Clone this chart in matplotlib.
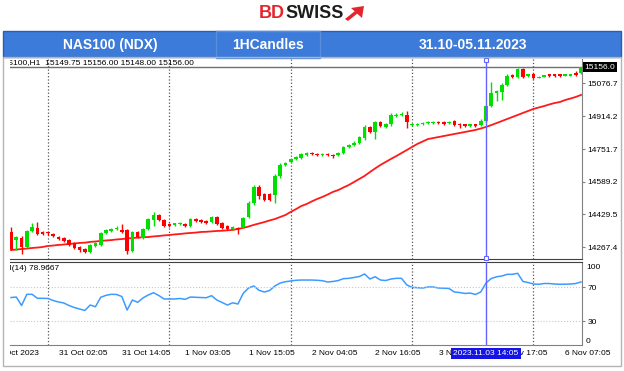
import matplotlib.pyplot as plt
from matplotlib.patches import Rectangle, Polygon

plt.rcParams['font.family'] = ['Liberation Sans', 'DejaVu Sans']

# NAS100 H1 candles, 30 Oct - 6 Nov 2023
opens = [14342, 14302, 14312, 14268, 14347, 14362, 14342, 14342, 14332, 14317,
         14312, 14302, 14288, 14268, 14258, 14243, 14273, 14278, 14337, 14347,
         14357, 14352, 14352, 14248, 14342, 14312, 14357, 14401, 14426, 14401,
         14381, 14377, 14381, 14381, 14372, 14406, 14401, 14396, 14391, 14416,
         14386, 14372, 14357, 14362, 14367, 14416, 14485, 14564, 14530, 14530,
         14525, 14618, 14673, 14688, 14702, 14707, 14722, 14732, 14727, 14722,
         14727, 14722, 14722, 14732, 14762, 14772, 14782, 14806, 14861, 14836,
         14885, 14861, 14875, 14915, 14920, 14920, 14870, 14870, 14875, 14880,
         14880, 14885, 14885, 14880, 14890, 14875, 14870, 14866, 14870, 14870,
         14890, 14964, 15029, 15033, 15068, 15113, 15108, 15147, 15113, 15122,
         15103, 15108, 15118, 15118, 15118, 15113, 15113, 15122, 15125]
highs = [14367, 14322, 14322, 14352, 14386, 14391, 14347, 14347, 14337, 14322,
         14317, 14307, 14293, 14273, 14263, 14283, 14293, 14342, 14357, 14362,
         14372, 14381, 14357, 14347, 14347, 14362, 14411, 14441, 14431, 14406,
         14386, 14386, 14391, 14386, 14411, 14411, 14406, 14401, 14421, 14421,
         14391, 14377, 14372, 14367, 14416, 14495, 14574, 14574, 14534, 14534,
         14628, 14683, 14688, 14707, 14717, 14732, 14737, 14737, 14732, 14732,
         14732, 14727, 14737, 14767, 14777, 14791, 14816, 14870, 14866, 14890,
         14890, 14880, 14930, 14930, 14935, 14940, 14880, 14880, 14885, 14890,
         14890, 14890, 14890, 14890, 14895, 14880, 14875, 14875, 14875, 14900,
         14969, 15083, 15043, 15078, 15122, 15122, 15152, 15152, 15122, 15127,
         15113, 15118, 15122, 15122, 15122, 15122, 15122, 15137, 15158]
lows = [14253, 14253, 14233, 14263, 14342, 14327, 14327, 14327, 14317, 14302,
        14293, 14273, 14258, 14243, 14238, 14238, 14268, 14273, 14332, 14342,
        14352, 14337, 14233, 14243, 14312, 14307, 14352, 14372, 14396, 14367,
        14367, 14372, 14377, 14367, 14367, 14391, 14386, 14381, 14386, 14377,
        14357, 14352, 14352, 14332, 14362, 14411, 14475, 14505, 14495, 14495,
        14485, 14608, 14668, 14683, 14698, 14702, 14717, 14722, 14717, 14717,
        14717, 14707, 14717, 14727, 14757, 14767, 14777, 14796, 14831, 14801,
        14861, 14856, 14866, 14910, 14915, 14856, 14866, 14866, 14870, 14875,
        14875, 14875, 14870, 14875, 14866, 14856, 14861, 14861, 14861, 14866,
        14885, 14959, 14989, 14994, 15063, 15103, 15103, 15103, 15108, 15098,
        15101, 15106, 15108, 15108, 15108, 15111, 15111, 15113, 15120]
closes = [14258, 14317, 14268, 14347, 14367, 14332, 14332, 14337, 14322, 14307,
          14297, 14278, 14263, 14253, 14243, 14278, 14288, 14337, 14352, 14357,
          14362, 14342, 14248, 14342, 14317, 14357, 14406, 14426, 14401, 14372,
          14372, 14381, 14386, 14372, 14406, 14396, 14391, 14386, 14416, 14381,
          14362, 14357, 14367, 14357, 14411, 14485, 14564, 14519, 14500, 14500,
          14618, 14673, 14683, 14702, 14712, 14727, 14732, 14727, 14722, 14727,
          14722, 14717, 14732, 14762, 14772, 14782, 14811, 14861, 14836, 14885,
          14866, 14875, 14920, 14920, 14925, 14885, 14875, 14875, 14880, 14885,
          14885, 14880, 14875, 14885, 14870, 14870, 14866, 14870, 14866, 14890,
          14964, 15029, 15038, 15068, 15113, 15108, 15147, 15108, 15118, 15103,
          15108, 15113, 15113, 15113, 15113, 15118, 15118, 15118, 15156]
ma = [14253, 14255, 14258, 14260, 14263, 14265, 14268, 14273, 14275, 14278,
      14280, 14283, 14285, 14288, 14289, 14293, 14295, 14298, 14300, 14302,
      14305, 14307, 14310, 14312, 14314, 14316, 14317, 14320, 14322, 14325,
      14327, 14330, 14332, 14335, 14337, 14339, 14342, 14343, 14345, 14347,
      14348, 14350, 14352, 14357, 14362, 14369, 14377, 14384, 14391, 14399,
      14406, 14416, 14426, 14441, 14455, 14470, 14480, 14493, 14505, 14515,
      14527, 14540, 14549, 14562, 14574, 14589, 14604, 14619, 14638, 14656,
      14673, 14688, 14703, 14717, 14732, 14747, 14762, 14777, 14789, 14801,
      14806, 14811, 14816, 14821, 14826, 14831, 14836, 14841, 14846, 14853,
      14861, 14870, 14880, 14890, 14900, 14910, 14920, 14930, 14940, 14950,
      14957, 14964, 14972, 14979, 14984, 14994, 15001, 15009, 15019]
rsi = [57.6, 58.2, 48.2, 61.4, 61.4, 56.7, 56.7, 56.5, 54.1, 52.4,
       51.2, 48.2, 45.9, 44.1, 42.4, 48.8, 46.8, 57.9, 60.2, 61.4,
       61.2, 58.8, 42.9, 54.7, 52.0, 57.1, 60.6, 63.3, 60.0, 55.9,
       55.9, 55.9, 56.5, 55.5, 58.2, 57.9, 57.6, 57.4, 59.8, 54.7,
       51.8, 48.8, 51.4, 50.0, 62.6, 68.8, 71.2, 66.1, 64.1, 65.9,
       71.2, 74.7, 76.2, 77.1, 77.9, 78.2, 78.2, 78.2, 77.9, 77.4,
       75.9, 76.5, 77.6, 79.8, 80.2, 81.2, 82.3, 85.3, 79.4, 82.1,
       78.2, 77.6, 79.4, 80.2, 80.2, 72.4, 69.6, 69.2, 68.8, 70.0,
       70.0, 68.8, 68.6, 68.2, 64.1, 63.5, 62.4, 62.9, 61.2, 64.1,
       74.7, 80.0, 82.0, 82.9, 84.9, 84.9, 86.1, 76.5, 75.2, 73.5,
       73.2, 74.1, 74.1, 73.5, 73.2, 73.3, 73.5, 74.1, 75.9]

price_ticks = [14267.4, 14429.5, 14589.2, 14751.7, 14914.2, 15076.7]
grid_bars = [7, 30, 53, 76, 99]
time_pos = [-3.4, 9, 21, 33, 45, 57, 69, 81, 93, 105]
time_labels = ['30 Oct 2023', '31 Oct 02:05', '31 Oct 14:05', '1 Nov 03:05', '1 Nov 15:05',
               '2 Nov 04:05', '2 Nov 16:05', '3 Nov 05:05', '3 Nov 17:05', '6 Nov 07:05']
cursor_bar = 90
cursor_label = '2023.11.03 14:05'

W, H = 624, 371
def box(x0, y0, x1, y1):
    # pixel box -> figure fraction rect
    return [x0 / W, 1 - y1 / H, (x1 - x0) / W, (y1 - y0) / H]

fig = plt.figure(figsize=(6.24, 3.71), dpi=100)
ax_p = fig.add_axes(box(10, 59, 582, 259))
ax_r = fig.add_axes(box(10, 262, 582, 345))
ax_t = fig.add_axes(box(10, 345, 624, 362))

x = list(range(len(closes)))
green, red = '#00e000', '#ff0000'

# candles
for i in x:
    c = green if closes[i] >= opens[i] else red
    ax_p.vlines(i, lows[i], highs[i], color=c, lw=1.0, zorder=3)
    ax_p.bar(i, max(abs(closes[i] - opens[i]), 7), bottom=min(opens[i], closes[i]),
             width=0.68, color=c, zorder=4)
ax_p.plot(x, ma, color='#ff1a1a', lw=1.3, zorder=2)
ax_p.axhline(closes[-1], color='#707070', lw=1, zorder=1)

ax_p.set_xlim(-0.19, 108.19)
ax_p.set_ylim(14208.5, 15196.5)
ax_p.yaxis.tick_right()
ax_p.set_yticks(price_ticks)
ax_p.set_yticklabels(['%.1f' % v for v in price_ticks])
ax_p.set_xticks([])
ax_p.tick_params(axis='y', labelsize=6, length=2, pad=2, colors='#808080', labelcolor='black')
ax_p.text(1.004, closes[-1], '%.1f' % closes[-1], transform=ax_p.get_yaxis_transform(),
          fontsize=6, color='white', va='center', ha='left',
          bbox=dict(facecolor='black', edgecolor='none', pad=1.2))
ax_p.text(-2.84, 15177, 'NAS100,H1  %.2f %.2f %.2f %.2f' % (15149.75, 15156.00, 15148.00, 15156.00),
          fontsize=6, va='center', ha='left', clip_on=True)

# RSI
ax_r.plot(x, rsi, color='#3d9bff', lw=1.1)
for lvl in (70, 30):
    ax_r.axhline(lvl, color='#c8c8c8', ls=':', lw=0.8)
ax_r.set_xlim(-0.19, 108.19)
ax_r.set_ylim(1.8, 99.4)
ax_r.yaxis.tick_right()
ax_r.set_yticks([70, 30])
ax_r.set_xticks([])
ax_r.tick_params(axis='y', labelsize=6, length=2, pad=2, colors='#808080', labelcolor='black')
ax_r.text(1.007, 93.5, '100', transform=ax_r.get_yaxis_transform(), fontsize=6, va='center')
ax_r.text(1.007, 6.5, '0', transform=ax_r.get_yaxis_transform(), fontsize=6, va='center')
ax_r.text(-2.37, 92.3, 'RSI(14) 78.9667', fontsize=6, va='center', ha='left', clip_on=True)

for ax in (ax_p, ax_r):
    for g in grid_bars:
        ax.axvline(g, color='#555555', ls=':', lw=0.9, zorder=1)
    ax.axvline(cursor_bar, color='#6464ff', lw=1, zorder=5)
    ax.spines['left'].set_visible(False)
    ax.spines['right'].set_color('#808080')
    ax.spines['top'].set_visible(False)
    ax.spines['bottom'].set_color('#808080')
ax_p.spines['bottom'].set_color('#404040')
ax_r.spines['top'].set_visible(True)
ax_r.spines['top'].set_color('#404040')
ax_p.plot([cursor_bar, cursor_bar], [15192, 14211], ls='none', marker='s', ms=2.5,
          mfc='white', mec='#6464ff', mew=0.8, clip_on=False, zorder=6)

# time axis
ax_t.set_xlim(-0.19, 116.14)
ax_t.set_ylim(0, 1)
ax_t.set_axis_off()
for p, lab in zip(time_pos, time_labels):
    ax_t.text(p, 0.5, lab, fontsize=6, va='center', ha='left', clip_on=True)
ax_t.text(cursor_bar, 0.5, cursor_label, fontsize=6, color='white', va='center', ha='center',
          zorder=5, bbox=dict(facecolor='#1414e6', edgecolor='none', pad=1.5))

# header, logo, frame
ov = fig.add_axes([0, 0, 1, 1], zorder=10)
ov.set_xlim(0, W)
ov.set_ylim(H, 0)
ov.set_axis_off()
ov.add_patch(Rectangle((3, 31), 618, 26, facecolor='#3c7bd9', edgecolor='#2b5fae', lw=1))
ov.add_patch(Rectangle((216, 31), 104, 27, facecolor='#3c7bd9', edgecolor='#5a8ddc', lw=1))
hdr = dict(color='white', fontsize=10, fontweight='bold', va='center', ha='center')
ov.text(110, 45, 'NAS100 (NDX)', **hdr)
ov.text(268, 45, '1HCandles', **hdr)
ov.text(473, 45, '31.10-05.11.2023', **hdr)
ov.text(259, 13.5, 'BD', color='#e3262e', fontsize=13, fontweight='bold', va='center', ha='left')
ov.text(285.5, 13.5, 'SWISS', color='#1d1d1b', fontsize=13, fontweight='bold', va='center', ha='left')
ov.add_patch(Polygon([(364, 6), (351, 8), (362, 18)], closed=True, color='#e3262e', lw=0))
ov.add_patch(Polygon([(345, 19), (348, 21), (358, 13), (355, 11)], closed=True, color='#e3262e', lw=0))
ov.add_patch(Rectangle((3, 57), 618, 309, facecolor='none', edgecolor='#b4b4b4', lw=1))

fig.savefig('out.png', dpi=100)
